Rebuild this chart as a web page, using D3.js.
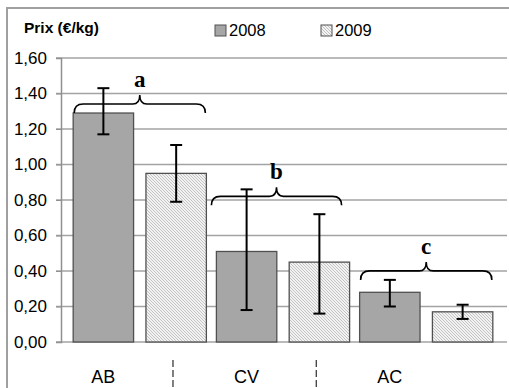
<!DOCTYPE html>
<html>
<head>
<meta charset="utf-8">
<script src="https://cdn.jsdelivr.net/npm/d3@7"></script>
<style>
  body { margin: 0; background: #fff; }
  svg { display: block; }
</style>
</head>
<body>
<div id="chart"></div>
<script>
// data
var groups = ['AB', 'CV', 'AC'];
var years = ['2008', '2009'];
var prix2008 = [1.29, 0.51, 0.28];
var prix2009 = [0.95, 0.45, 0.17];
var errHi2008 = [1.43, 0.86, 0.35];
var errLo2008 = [1.17, 0.18, 0.20];
var errHi2009 = [1.11, 0.72, 0.21];
var errLo2009 = [0.79, 0.16, 0.13];
var braceLetters = ['a', 'b', 'c'];
var braceLevels = [1.29, 0.77, 0.35];
var yTicks = [0, 0.2, 0.4, 0.6, 0.8, 1.0, 1.2, 1.4, 1.6];

var width = 509, height = 388;

var rows = [];
groups.forEach(function (g, i) {
    rows.push({group: g, year: '2008', v: prix2008[i], hi: errHi2008[i], lo: errLo2008[i]});
    rows.push({group: g, year: '2009', v: prix2009[i], hi: errHi2009[i], lo: errLo2009[i]});
});

var svg = d3.select('#chart')
    .append('svg')
    .attr('width', width)
    .attr('height', height);

// fine hatch for 2009
var defs = svg.append('defs');
var pat = defs.append('pattern')
    .attr('id', 'hatch')
    .attr('patternUnits', 'userSpaceOnUse')
    .attr('width', 3)
    .attr('height', 3);
pat.append('rect').attr('width', 3).attr('height', 3).attr('fill', '#f2f2f2');
pat.append('path')
    .attr('d', 'M-1,2 l2,2 M0,0 l3,3 M2,-1 l2,2')
    .attr('stroke', '#bdbdbd')
    .attr('stroke-width', 0.9);

function fillFor(year) {
    return year === '2008' ? '#a6a6a6' : 'url(#hatch)';
}

// outer frame (left + top)
svg.append('path')
    .attr('d', 'M7,' + height + ' V8 H' + width)
    .attr('fill', 'none')
    .attr('stroke', '#a0a0a0')
    .attr('stroke-width', 2);

var x0 = d3.scaleBand()
    .domain(groups)
    .range([61, 505])
    .paddingInner(0.07)
    .paddingOuter(0.085);

var x1 = d3.scaleBand()
    .domain(years)
    .range([0, x0.bandwidth()])
    .paddingInner(0.17);

var y = d3.scaleLinear()
    .domain([0, 1.6])
    .range([342, 58]);

// gridlines
svg.append('g')
    .selectAll('line')
    .data(yTicks)
    .enter()
    .append('line')
    .attr('x1', 56)
    .attr('x2', 507)
    .attr('y1', function (d) { return y(d); })
    .attr('y2', function (d) { return y(d); })
    .attr('stroke', '#a3a3a3')
    .attr('stroke-width', 1.3);

// y axis
var yAxis = svg.append('g')
    .attr('transform', 'translate(61,0)')
    .call(d3.axisLeft(y)
        .tickValues(yTicks)
        .tickSize(5)
        .tickFormat(function (d) { return d3.format('.2f')(d).replace('.', ','); }));
yAxis.select('.domain').attr('stroke', '#909090').attr('stroke-width', 1.5);
yAxis.selectAll('.tick line').attr('stroke', '#909090');
yAxis.selectAll('text')
    .attr('x', -14)
    .attr('font-family', 'Liberation Sans, Arial, sans-serif')
    .attr('font-size', 17)
    .attr('fill', '#000');

// bars
svg.append('g')
    .selectAll('rect')
    .data(rows)
    .enter()
    .append('rect')
    .attr('x', function (d) { return x0(d.group) + x1(d.year); })
    .attr('y', function (d) { return y(d.v); })
    .attr('width', x1.bandwidth())
    .attr('height', function (d) { return y(0) - y(d.v); })
    .attr('fill', function (d) { return fillFor(d.year); })
    .attr('stroke', '#505050')
    .attr('stroke-width', 1.3);

// error bars
var err = svg.append('g')
    .selectAll('g')
    .data(rows)
    .enter()
    .append('g')
    .attr('transform', function (d) {
        return 'translate(' + (x0(d.group) + x1(d.year) + x1.bandwidth() / 2) + ',0)';
    })
    .attr('stroke', '#000')
    .attr('stroke-width', 2);
err.append('line')
    .attr('y1', function (d) { return y(d.hi); })
    .attr('y2', function (d) { return y(d.lo); });
err.append('line')
    .attr('x1', -6).attr('x2', 6)
    .attr('y1', function (d) { return y(d.hi); })
    .attr('y2', function (d) { return y(d.hi); });
err.append('line')
    .attr('x1', -6).attr('x2', 6)
    .attr('y1', function (d) { return y(d.lo); })
    .attr('y2', function (d) { return y(d.lo); });

// curly braces with letters
function bracePath(xa, xb, yb) {
    var h = 9, r = 9, rm = 7, xm = (xa + xb) / 2;
    return 'M' + xa + ',' + yb +
        ' Q' + xa + ',' + (yb - h) + ' ' + (xa + r) + ',' + (yb - h) +
        ' L' + (xm - rm) + ',' + (yb - h) +
        ' Q' + xm + ',' + (yb - h) + ' ' + xm + ',' + (yb - 2 * h) +
        ' Q' + xm + ',' + (yb - h) + ' ' + (xm + rm) + ',' + (yb - h) +
        ' L' + (xb - r) + ',' + (yb - h) +
        ' Q' + xb + ',' + (yb - h) + ' ' + xb + ',' + yb;
}
var braces = svg.append('g');
groups.forEach(function (g, i) {
    var xa = x0(g) + 1, xb = x0(g) + x0.bandwidth() - 1;
    if (i === 1) { xa -= 6; xb -= 7; }   // the middle brace sits a little to the left
    braces.append('path')
        .attr('d', bracePath(xa, xb, y(braceLevels[i])))
        .attr('fill', 'none')
        .attr('stroke', '#000')
        .attr('stroke-width', 1.6);
    braces.append('text')
        .attr('x', (xa + xb) / 2)
        .attr('y', y(braceLevels[i]) - 26)
        .attr('text-anchor', 'middle')
        .attr('font-family', 'Liberation Serif, Times New Roman, serif')
        .attr('font-weight', 'bold')
        .attr('font-size', 23)
        .text(braceLetters[i]);
});

// category labels and dashed separators
var labelX = groups.map(function (g) {
    return x0(g) + x1('2008') + x1.bandwidth() / 2;
});
svg.append('g')
    .selectAll('text')
    .data(groups)
    .enter()
    .append('text')
    .attr('x', function (d, i) { return labelX[i]; })
    .attr('y', 383)
    .attr('text-anchor', 'middle')
    .attr('font-family', 'Liberation Sans, Arial, sans-serif')
    .attr('font-size', 18)
    .text(function (d) { return d; });

svg.append('g')
    .selectAll('line')
    .data(labelX.slice(1))
    .enter()
    .append('line')
    .attr('x1', function (d, i) { return (labelX[i] + d) / 2 - 2; })
    .attr('x2', function (d, i) { return (labelX[i] + d) / 2 - 2; })
    .attr('y1', 360)
    .attr('y2', height)
    .attr('stroke', '#000')
    .attr('stroke-width', 1)
    .attr('stroke-dasharray', '7,3');

// title + legend
svg.append('text')
    .attr('x', 24)
    .attr('y', 33)
    .attr('font-family', 'Liberation Sans, Arial, sans-serif')
    .attr('font-weight', 'bold')
    .attr('font-size', 15.5)
    .text('Prix (€/kg)');

var legendX = [215, 321];
var legend = svg.append('g')
    .selectAll('g')
    .data(years)
    .enter()
    .append('g')
    .attr('transform', function (d, i) { return 'translate(' + legendX[i] + ',25)'; });
legend.append('rect')
    .attr('width', 11)
    .attr('height', 11)
    .attr('fill', function (d) { return fillFor(d); })
    .attr('stroke', '#505050')
    .attr('stroke-width', 1);
legend.append('text')
    .attr('x', 14)
    .attr('y', 11)
    .attr('font-family', 'Liberation Sans, Arial, sans-serif')
    .attr('font-size', 16.5)
    .text(function (d) { return d; });
</script>
</body>
</html>
